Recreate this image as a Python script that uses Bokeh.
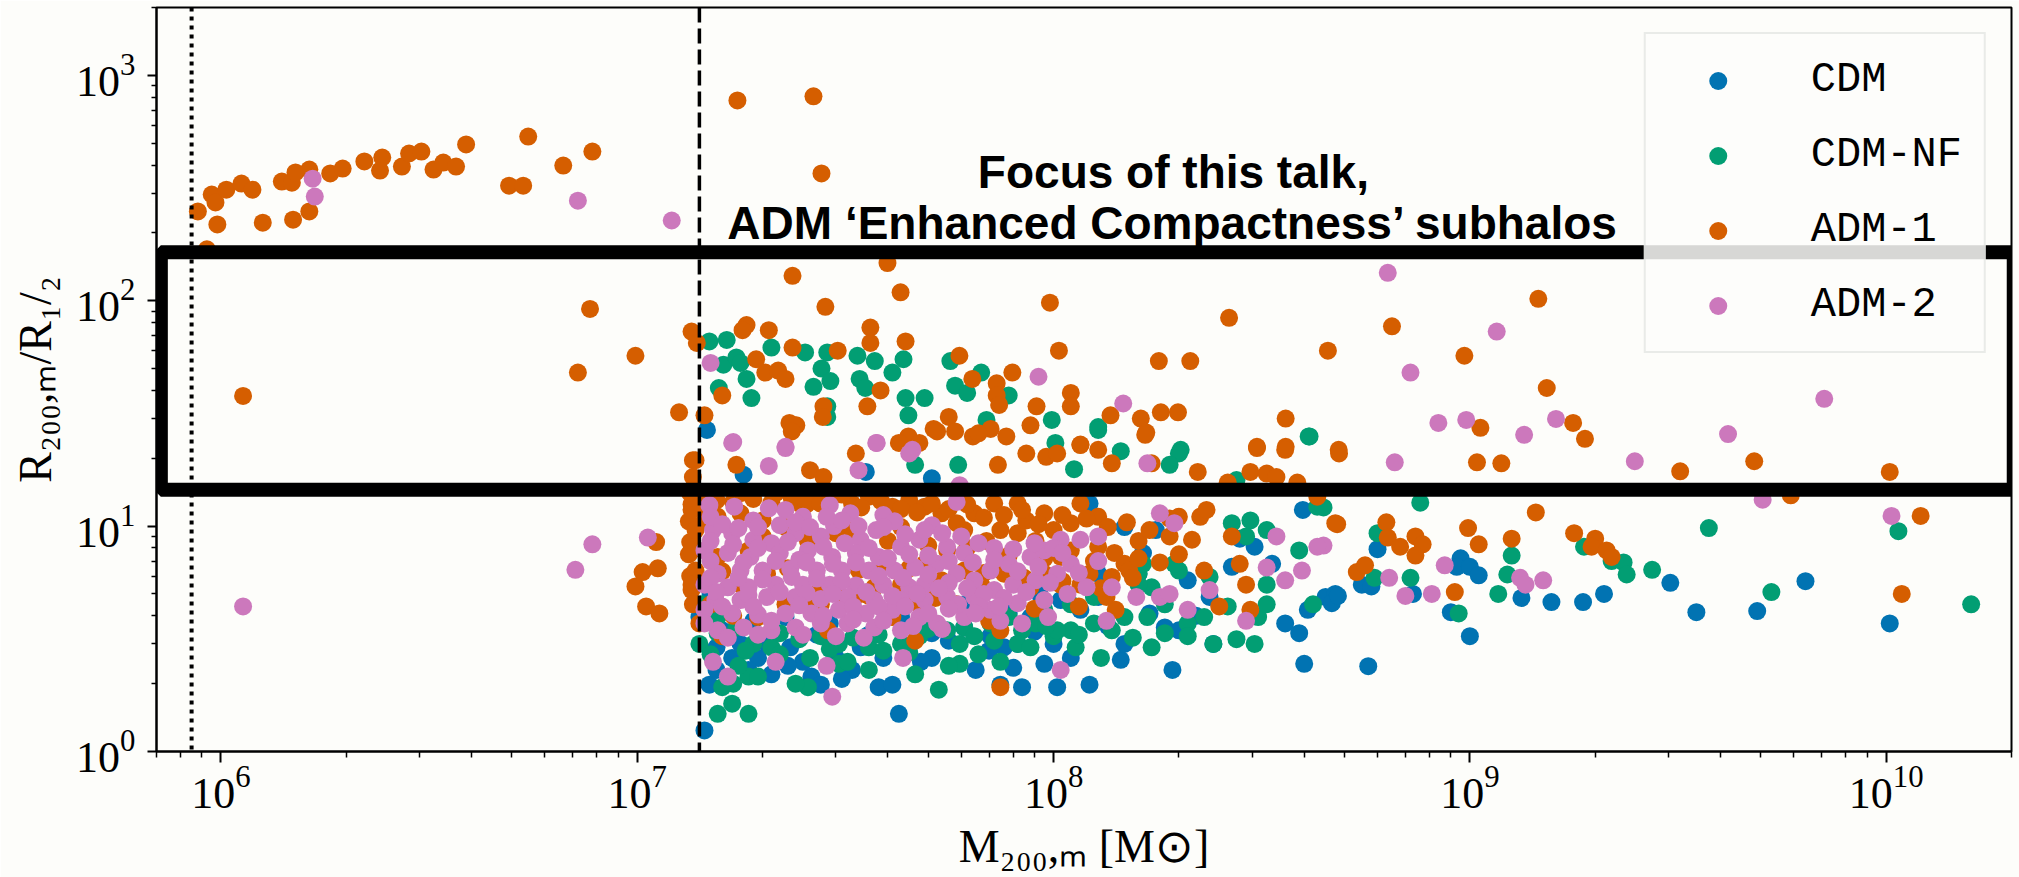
from bokeh.plotting import figure
from bokeh.models import FixedTicker, Span, BoxAnnotation, Label
from bokeh.embed import file_html
from bokeh.resources import INLINE

# ---------------- data (M200,m [Msun], R200,m / R1/2) ----------------
series_names = ["CDM", "CDM-NF", "ADM-1", "ADM-2"]
series_colors = ["#0173b2", "#029e73", "#d55e00", "#cc78bc"]

cdm_points = [
    (1.47e7, 26.7), (1.8e7, 16.9), (5.1e7, 16.3), (3.54e7, 17.4), (1.41e7, 3.95), (1.6e7, 3.45),
    (1.69e7, 2.6), (1.77e7, 3.0), (1.95e7, 2.6), (2.1e7, 2.2), (2.05e7, 3.0), (2.33e7, 2.9),
    (2.62e7, 2.15), (2.76e7, 1.98), (3.28e7, 2.3), (3.44e7, 2.9), (3.8e7, 1.93), (4.1e7, 1.98),
    (4.25e7, 1.47), (5.1e7, 2.6), (5.1e7, 3.35), (6.1e7, 3.55), (7.05e7, 3.25), (7.6e7, 2.9),
    (8.2e7, 3.0), (8.4e7, 1.93), (9.5e7, 2.45), (1.0e8, 3.0), (1.02e8, 1.93), (1.22e8, 1.98),
    (1.16e8, 4.25), (1.22e8, 12.6), (1.45e8, 2.55), (1.48e8, 3.0), (1.48e8, 9.9), (1.64e8, 7.6),
    (1.76e8, 9.6), (1.85e8, 3.55), (1.93e8, 2.3), (2.0e8, 3.45), (2.42e8, 3.0), (2.68e8, 6.6),
    (3.04e8, 8.1), (3.35e8, 6.8), (3.6e8, 3.7), (3.89e8, 3.35), (4.0e8, 2.45), (3.97e8, 11.8),
    (4.08e8, 4.25), (4.5e8, 4.85), (4.75e8, 5.0), (1.6e8, 6.15), (1.28e8, 6.15), (9.25e7, 5.0),
    (1.04e8, 4.7), (7.45e7, 1.98), (7.8e7, 4.1), (1.45e7, 1.24), (1.49e7, 1.98), (2.27e7, 3.95),
    (2.9e7, 3.7), (4.3e7, 3.95), (6.1e7, 4.5), (8.8e7, 3.95), (1.28e8, 4.85), (2.1e8, 5.75),
    (2.37e8, 4.85), (2.8e8, 8.8), (6.0e8, 7.9), (5.5e8, 5.5), (5.8e8, 5.4), (4.66e8, 4.55),
    (4.82e8, 4.9), (7.3e8, 5.0), (9.5e8, 7.2), (9.3e8, 6.6), (1.0e9, 6.6), (1.05e9, 6.05),
    (1.33e9, 4.8), (1.57e9, 4.6), (1.87e9, 4.6), (2.1e9, 5.0), (3.03e9, 5.6), (3.5e9, 4.15),
    (4.9e9, 4.2), (6.4e9, 5.7), (1.02e10, 3.7), (9.0e8, 4.15), (1.0e9, 3.25), (5.7e8, 2.39),
    (1.5e7, 5.0), (1.45e7, 4.4), (1.55e7, 2.3), (1.9e7, 3.8), (2.5e7, 2.5), (3.0e7, 2.6),
    (3.6e7, 3.3),
    (1.55e7, 2.9), (1.85e7, 2.3), (2.3e7, 2.4), (2.7e7, 3.3), (3.1e7, 2.1), (3.9e7, 2.6),
    (4.8e7, 2.5), (5.6e7, 3.1), (6.5e7, 2.3), (7.0e7, 2.8), (8.0e7, 2.35), (9.0e7, 3.4),
    (1.1e8, 2.6), (1.35e8, 3.6), (1.7e8, 4.1), (2.2e8, 4.0),
]

cdmnf_points = [
    (1.49e7, 66), (1.64e7, 67), (1.61e7, 52), (1.73e7, 56), (1.77e7, 53), (2.1e7, 62),
    (2.53e7, 59), (2.86e7, 59), (3.38e7, 57), (3.72e7, 54), (4.36e7, 55), (4.1e7, 48),
    (2.77e7, 50), (2.91e7, 44), (2.65e7, 41.5), (1.83e7, 45), (1.88e7, 37), (1.57e7, 41),
    (3.42e7, 45), (3.53e7, 41), (4.41e7, 37), (4.9e7, 37), (4.48e7, 31), (5.65e7, 54),
    (5.8e7, 42), (6.2e7, 39), (6.7e7, 48), (7.8e7, 38), (2.86e7, 34), (2.86e7, 30.5),
    (9.9e7, 29.6), (1.28e8, 27.5), (6.9e7, 29.6), (4.12e8, 25), (2.02e8, 21.8), (1.01e8, 23.4),
    (1.28e8, 26.7), (2.0e8, 21), (4.1e8, 25), (1.9e8, 18.7), (1.12e8, 17.9), (1.45e8, 21.5),
    (4.65e7, 18.7), (5.9e7, 18.7), (2.75e8, 16), (1.41e7, 3.0), (1.56e7, 3.35), (1.73e7, 3.55),
    (1.9e7, 3.0), (1.82e7, 2.8), (2.2e7, 3.35), (2.45e7, 3.15), (2.76e7, 3.25), (3.05e7, 3.0),
    (3.05e7, 2.45), (3.6e7, 2.9), (3.9e7, 2.8), (4.3e7, 3.0), (4.76e7, 3.25), (5.55e7, 3.45),
    (5.95e7, 3.0), (6.1e7, 3.55), (6.45e7, 3.25), (7.05e7, 3.7), (7.8e7, 3.95), (8.4e7, 3.45),
    (9.05e7, 3.7), (1.0e8, 3.25), (1.1e8, 3.45), (1.25e8, 3.7), (1.38e8, 3.45), (1.48e8, 3.95),
    (1.68e8, 3.95), (1.85e8, 4.5), (1.72e8, 2.9), (1.85e8, 3.35), (2.1e8, 3.7), (2.3e8, 3.95),
    (2.62e8, 4.4), (2.75e8, 3.15), (3.04e8, 3.0), (3.1e8, 3.95), (3.25e8, 4.5), (1.72e8, 5.35),
    (1.6e8, 6.15), (1.64e8, 6.8), (2.0e8, 6.35), (2.37e8, 5.95), (2.68e8, 10.3), (2.97e8, 10.6),
    (3.25e8, 9.6), (3.89e8, 7.8), (4.2e8, 4.5), (4.3e8, 12.2), (9.5e7, 4.25), (1.13e8, 2.9),
    (1.85e7, 2.15), (1.95e7, 2.15), (1.6e7, 1.93), (1.56e7, 1.47), (1.85e7, 1.47), (1.69e7, 1.63),
    (5.3e7, 1.88), (2.57e7, 1.93), (3.6e7, 2.3), (4.65e7, 2.2), (5.95e7, 2.45), (7.45e7, 2.5),
    (8.2e7, 3.0), (1.02e8, 3.45), (1.1e8, 4.5), (1.25e8, 4.85), (2.1e7, 2.9), (1.6e8, 5.5),
    (1.95e8, 6.8), (2.1e8, 3.25), (2.42e8, 3.0), (2.9e8, 9.0), (3.25e8, 5.5), (1.43e7, 4.5),
    (1.56e7, 3.95), (7.6e8, 12.7), (4.45e8, 12.1), (6.0e8, 9.3), (3.75e9, 9.8), (1.07e10, 9.5),
    (1.26e9, 7.4), (1.88e9, 8.1), (2.19e9, 7.0), (2.34e9, 6.9), (2.38e9, 6.1), (2.74e9, 6.4),
    (5.9e8, 5.9), (7.2e8, 5.9), (1.23e9, 6.1), (1.17e9, 5.0), (9.4e8, 4.1), (5.3e9, 5.1),
    (1.6e10, 4.5),
    (1.5e7, 2.7), (1.75e7, 2.4), (2.2e7, 2.7), (2.6e7, 2.6), (2.9e7, 2.85), (3.3e7, 3.2),
    (3.8e7, 3.3), (4.5e7, 2.75), (5.0e7, 3.5), (6.6e7, 2.7), (7.2e7, 3.1), (8.8e7, 2.9),
    (9.6e7, 3.6), (1.15e8, 3.3), (1.3e8, 2.6), (1.55e8, 3.2), (1.7e7, 2.0), (2.4e7, 2.0),
    (3.2e7, 2.5), (5.6e7, 2.4),
]

adm1_points = [
    (8.8e5, 249), (9.5e5, 296), (9.7e5, 273), (9.8e5, 218), (1.03e6, 311), (1.12e6, 331),
    (1.19e6, 311), (1.26e6, 222), (1.40e6, 338), (1.48e6, 334), (1.51e6, 371), (1.49e6, 229),
    (1.63e6, 382), (1.63e6, 249), (1.83e6, 367), (1.96e6, 386), (2.21e6, 415), (2.41e6, 378),
    (2.44e6, 432), (2.72e6, 394), (2.83e6, 450), (3.03e6, 459), (3.24e6, 382), (3.42e6, 410),
    (3.67e6, 394), (3.88e6, 494), (4.92e6, 324), (5.32e6, 324), (5.47e6, 535), (6.64e6, 398),
    (7.8e6, 459), (9.25e5, 169),
    (7.7e6, 92), (9.9e6, 57), (7.2e6, 48), (1.13e6, 37.8), (1.26e7, 32), (1.35e7, 73), (1.39e7, 65),
    (1.11e7, 8.5), (1.03e7, 6.25), (1.12e7, 6.5), (9.9e6, 5.4), (1.05e7, 4.4), (1.13e7, 4.1),
    (1.36e7, 19.6), (1.34e7, 14), (1.35e7, 12.5), (1.33e7, 10.5), (1.34e7, 8.5), (1.33e7, 7.5),
    (1.34e7, 6.0), (1.35e7, 5.2), (1.36e7, 16.5),
    (1.74e7, 774), (2.65e7, 807), (2.77e7, 367),
    (3.99e7, 147), (2.36e7, 129), (4.29e7, 109), (2.83e7, 94), (9.8e7, 98), (2.64e8, 84),
    (4.56e8, 60), (1.03e8, 60), (1.79e8, 54), (2.13e8, 54), (1.83e7, 78), (1.79e7, 74),
    (2.07e7, 74), (3.63e7, 76), (3.63e7, 65), (4.41e7, 66), (3.03e7, 60), (2.36e7, 62),
    (1.93e7, 55), (2.03e7, 48), (2.18e7, 49), (2.27e7, 45), (5.94e7, 57), (6.38e7, 45),
    (7.96e7, 48), (7.3e7, 43), (7.3e7, 38), (7.4e7, 34.5), (3.84e7, 40), (3.57e7, 34),
    (2.8e7, 34), (2.79e7, 30.5), (1.6e7, 38), (1.45e7, 31), (2.32e7, 28.7), (2.41e7, 28),
    (1.1e8, 39), (1.1e8, 34), (9.1e7, 34), (8.8e7, 28), (1.37e8, 31), (1.62e8, 30),
    (1.67e8, 26), (1.81e8, 32), (1.99e8, 32), (3.61e8, 30), (5.6e7, 30.5), (5.15e7, 27),
    (6.4e7, 25), (7.06e7, 27), (7.7e7, 25), (4.48e7, 25), (3.08e8, 22.5), (3.61e8, 22.5),
    (4.84e8, 21.8), (1.16e8, 23),
    (1.46e9, 102), (6.5e8, 77), (9.7e8, 57), (1.53e9, 41), (1.06e9, 27.3), (1.77e9, 28.7),
    (1.89e9, 24.4),
    (1.04e9, 19.2), (1.19e9, 19), (3.2e9, 17.5), (4.82e9, 19.4), (1.02e10, 17.4), (5.9e9, 13.7),
    (1.21e10, 11.1), (1.44e9, 11.5), (4.8e8, 10.2), (6.3e8, 10.4), (6.35e8, 8.9), (6.8e8, 8.1),
    (7.4e8, 9.0), (7.7e8, 8.3), (7.4e8, 7.4), (9.9e8, 9.8), (1.05e9, 8.3), (1.26e9, 8.8),
    (1.78e9, 9.3), (2.0e9, 8.8), (1.96e9, 8.1), (2.13e9, 7.8), (2.19e9, 7.3), (5.35e8, 6.25),
    (5.6e8, 6.7), (9.2e8, 5.1), (1.09e10, 5.0),
    (2.35e7, 26.3), (3.35e7, 21), (4.25e7, 23.4), (4.76e7, 23.4), (5.25e7, 26.3), (5.8e7, 26.3),
    (6.6e7, 25.8), (7.35e7, 18.7), (8.6e7, 21), (9.6e7, 20.3), (1.02e8, 21), (1.16e8, 22.9),
    (1.28e8, 21.8), (1.38e8, 19.0), (1.66e8, 25.4), (2.22e8, 17.4), (2.62e8, 15.6), (2.97e8, 17.4),
    (3.08e8, 22.2), (3.25e8, 17.1), (3.6e8, 21.8), (3.85e8, 15.6), (4.85e8, 21), (1.38e7, 19.6),
    (2.6e7, 17.7), (2.8e7, 16.5), (1.73e7, 18.7),
    (1.35e7, 11.8), (1.38e7, 9.6), (1.38e7, 6.35), (1.36e7, 4.5), (1.56e7, 11.0), (1.77e7, 11.4),
    (2.0e7, 10.6), (2.27e7, 9.9), (2.45e7, 12.6), (2.62e7, 14.0), (2.9e7, 13.5), (3.28e7, 12.6),
    (3.6e7, 13.5), (4.1e7, 12.2), (4.5e7, 13.0), (4.9e7, 12.2), (5.38e7, 11.4), (5.85e7, 10.3),
    (6.1e7, 9.6), (6.45e7, 11.4), (6.9e7, 8.6), (7.45e7, 9.6), (8.2e7, 9.3), (7.2e7, 12.6),
    (8.6e7, 10.6), (9.5e7, 11.4), (1.0e8, 9.6), (1.1e8, 10.3), (1.16e8, 12.6), (1.04e8, 7.3),
    (1.22e8, 6.15), (1.38e8, 5.95), (1.48e8, 6.8), (1.16e8, 5.5), (1.34e8, 4.85), (1.41e8, 4.25),
    (1.52e8, 6.35), (6.1e7, 6.35), (5.38e7, 5.75), (4.3e7, 5.5), (3.71e7, 5.35), (2.76e7, 5.35),
    (2.05e7, 6.15), (1.77e7, 5.5), (1.5e7, 4.5), (1.41e7, 3.7), (1.6e7, 3.25), (1.95e7, 3.95),
    (2.27e7, 4.5), (2.76e7, 4.5), (3.05e7, 5.0), (3.44e7, 5.0), (4.65e7, 4.85), (4.1e7, 3.95),
    (4.76e7, 4.5), (5.85e7, 4.5), (6.7e7, 5.5), (7.45e7, 3.45), (7.45e7, 1.93), (2.87e7, 3.45),
    (4.65e7, 3.1), (7.6e7, 6.15), (2.25e8, 11.0), (2.33e8, 11.8), (2.0e8, 11.0), (2.68e8, 9.0),
    (2.8e8, 6.8), (2.9e8, 5.5), (4.75e8, 10.3), (3.43e8, 16.5), (4.3e8, 13.5), (2.15e8, 8.7),
    (2.3e8, 6.35), (2.5e8, 4.4), (2.97e8, 4.25), (1.9e8, 9.0), (1.72e8, 19.0),
    (8.2e7, 12.6), (9.05e7, 8.6), (1.28e8, 8.1), (1.28e8, 11.0), (1.6e8, 8.6), (5.55e7, 7.8),
    (4.3e7, 9.9), (3.28e7, 9.6), (2.57e7, 8.6), (1.85e7, 7.8), (1.56e7, 7.3), (1.35e7, 7.8),
    (1.35e7, 5.5), (1.48e7, 13.5), (1.77e7, 14.0), (2.15e7, 14.0), (4.9e7, 6.8), (3.9e7, 6.8),
    (9.5e7, 6.15), (1.04e8, 5.5), (8.8e7, 5.35),
    (1.42e7, 12.5), (1.55e7, 13.0), (1.7e7, 12.8), (1.9e7, 13.2), (2.1e7, 12.7), (2.35e7, 13.3),
    (2.55e7, 12.5), (2.75e7, 12.6), (3.1e7, 13.8), (3.45e7, 12.1), (3.85e7, 12.9), (4.3e7, 11.9),
    (4.7e7, 11.5), (5.1e7, 12.6), (5.6e7, 11.9), (6.2e7, 12.5), (6.8e7, 10.9), (7.6e7, 11.2),
    (8.4e7, 11.8), (9.2e7, 10.2), (1.05e8, 11.2), (1.2e8, 10.8), (1.35e8, 9.9), (1.5e8, 10.4),
    (1.7e8, 9.6), (1.9e8, 10.8), (1.45e7, 10.5), (2.0e7, 9.0), (3.0e7, 9.3), (4.0e7, 8.6),
    (5.0e7, 8.2), (6.2e7, 8.0), (7.8e7, 7.4), (9.5e7, 7.2), (1.1e8, 7.8), (1.25e8, 7.0),
    (1.4e8, 7.6), (1.6e8, 7.2), (1.8e8, 6.9), (2.0e8, 7.5), (1.6e7, 6.3), (2.3e7, 6.5),
    (3.4e7, 6.4), (4.5e7, 6.5), (6.8e7, 6.2), (8.5e7, 5.9), (1.05e8, 5.7), (1.3e8, 5.3),
    (1.55e8, 5.9), (1.7e7, 4.0), (2.6e7, 4.7), (3.6e7, 4.9), (5.2e7, 4.8), (7.0e7, 3.8),
    (9.0e7, 4.3), (1.15e8, 4.4),
]

adm2_points = [
    (1.66e6, 348), (1.68e6, 290), (7.2e6, 278), (1.21e7, 227),
    (1.13e6, 4.4), (7.1e6, 6.4), (7.8e6, 8.3), (1.06e7, 8.9),
    (1.5e7, 53), (9.2e7, 46), (1.47e8, 35), (1.7e7, 23.6), (2.27e7, 22.5), (3.76e7, 23.4),
    (4.58e7, 21.8),
    (6.35e8, 133), (1.16e9, 73), (7.2e8, 48), (7.1e9, 36.7), (8.4e8, 28.7), (9.8e8, 29.6),
    (1.35e9, 25.4), (1.61e9, 29.9), (4.17e9, 25.6),
    (4.45e8, 8.2), (8.7e8, 6.7), (6.4e8, 5.9), (7.0e8, 4.9), (8.1e8, 5.0), (1.32e9, 5.9),
    (1.36e9, 5.5), (1.5e9, 5.75), (5.05e9, 13.1), (1.03e10, 11.1), (2.49e9, 19.4), (6.6e8, 19.2),
    (1.69e7, 23.4), (3.75e7, 23.4), (2.27e7, 22.2), (4.5e7, 21), (2.07e7, 18.5), (3.4e7, 17.7),
    (1.68e8, 19.0), (5.95e7, 15.2),
    (1.49e7, 12.4), (1.71e7, 12.2), (2.07e7, 12.0), (1.9e7, 10.6), (2.27e7, 11.8), (2.5e7, 11.0),
    (2.9e7, 12.4), (3.25e7, 11.4), (3.9e7, 11.2), (4.15e7, 10.5), (3.75e7, 9.6), (3.44e7, 8.7),
    (2.97e7, 10.0), (2.76e7, 9.0), (2.4e7, 9.3), (2.1e7, 8.4), (1.9e7, 8.7), (1.69e7, 9.3),
    (1.52e7, 9.6), (1.45e7, 7.8), (1.65e7, 7.6), (1.87e7, 7.3), (2.2e7, 7.6), (2.57e7, 7.8),
    (2.94e7, 7.3), (3.35e7, 7.6), (3.8e7, 7.3), (4.3e7, 8.1), (4.76e7, 8.7), (5.1e7, 10.1),
    (5.85e7, 12.8), (5.55e7, 8.1), (6.1e7, 7.6), (5.25e7, 6.8), (4.65e7, 6.55), (4.15e7, 6.35),
    (3.6e7, 6.35), (3.1e7, 6.35), (2.7e7, 6.35), (2.33e7, 6.45), (2.0e7, 6.35), (1.77e7, 6.35),
    (1.56e7, 6.15), (1.45e7, 5.5), (1.65e7, 5.35), (1.85e7, 5.35), (2.15e7, 5.5), (2.5e7, 5.5),
    (2.9e7, 5.5), (3.35e7, 5.45), (3.9e7, 5.5), (4.5e7, 5.35), (4.9e7, 5.5), (5.85e7, 6.15),
    (6.45e7, 5.75), (7.05e7, 6.35), (7.8e7, 6.8), (8.8e7, 7.3), (9.5e7, 7.8), (1.04e8, 8.7),
    (1.16e8, 8.7), (1.28e8, 9.0), (1.28e8, 7.0), (1.1e8, 6.8), (1.02e8, 6.15), (9.05e7, 5.75),
    (8.0e7, 5.5), (7.2e7, 5.2), (6.45e7, 4.85), (5.55e7, 4.85), (4.9e7, 4.7), (4.3e7, 4.7),
    (3.71e7, 4.7), (3.2e7, 4.85), (2.76e7, 4.75), (2.4e7, 4.85), (2.05e7, 4.85), (1.77e7, 4.7),
    (1.54e7, 4.7), (1.45e7, 4.25), (1.69e7, 4.1), (1.95e7, 4.05), (2.27e7, 4.1), (2.62e7, 4.1),
    (3.05e7, 4.25), (3.54e7, 4.1), (4.1e7, 4.25), (4.76e7, 3.95), (5.25e7, 3.7), (6.1e7, 3.95),
    (7.05e7, 4.25), (8.2e7, 4.55), (9.5e7, 4.7), (1.08e8, 5.0), (1.2e8, 5.35), (1.38e8, 5.35),
    (1.58e8, 4.85), (1.8e8, 4.85), (2.1e8, 4.25), (1.9e8, 5.0), (1.8e8, 11.4), (1.95e8, 10.3),
    (2.37e8, 5.2), (2.9e8, 3.8), (3.25e8, 6.55), (3.43e8, 9.0), (3.6e8, 5.75), (3.95e8, 6.35),
    (4.3e8, 8.1), (1.34e8, 3.8), (9.7e7, 3.95), (8.4e7, 3.7), (7.45e7, 3.8), (4.3e7, 3.45),
    (3.71e7, 3.55), (3.2e7, 3.7), (2.76e7, 3.7), (2.4e7, 3.55), (2.1e7, 3.45), (1.8e7, 3.55),
    (1.56e7, 3.45), (1.52e7, 2.5), (1.65e7, 2.15), (2.15e7, 2.5), (2.85e7, 2.4), (2.94e7, 1.75),
    (4.35e7, 2.6), (1.04e8, 2.3),
    (1.5e7, 11.0), (1.6e7, 10.2), (1.75e7, 9.8), (1.95e7, 9.9), (2.2e7, 10.1), (2.4e7, 10.4),
    (2.6e7, 9.9), (2.85e7, 11.0), (3.1e7, 10.6), (3.4e7, 10.0), (3.9e7, 9.9), (4.4e7, 9.2),
    (4.9e7, 9.6), (5.4e7, 9.3), (6.0e7, 9.0), (6.6e7, 8.4), (7.2e7, 8.0), (8.0e7, 7.9),
    (9.0e7, 8.4), (1.0e8, 8.0), (1.5e7, 8.6), (1.7e7, 8.3), (1.95e7, 8.0), (2.3e7, 8.5),
    (2.45e7, 7.1), (2.8e7, 8.1), (3.15e7, 8.4), (3.6e7, 8.0), (4.0e7, 7.2), (4.5e7, 7.5),
    (5.0e7, 7.4), (5.6e7, 7.0), (6.4e7, 6.9), (7.2e7, 7.1), (8.2e7, 6.3), (9.2e7, 6.6),
    (1.05e8, 7.6), (1.15e8, 6.2), (1.5e7, 7.0), (1.8e7, 6.9), (2.15e7, 7.0), (2.55e7, 6.9),
    (2.95e7, 6.8), (3.35e7, 6.9), (3.8e7, 6.0), (4.35e7, 5.9), (5.0e7, 6.1), (5.6e7, 5.6),
    (6.2e7, 5.3), (6.8e7, 5.0), (7.6e7, 4.8), (8.6e7, 5.1), (9.8e7, 5.6), (1.5e7, 5.9),
    (1.75e7, 5.9), (2.0e7, 5.8), (2.35e7, 5.95), (2.7e7, 5.85), (3.1e7, 5.7), (3.55e7, 5.1),
    (4.1e7, 4.9), (4.7e7, 5.0), (5.3e7, 5.3), (5.9e7, 4.5), (6.6e7, 4.4), (7.4e7, 4.4),
    (1.55e7, 5.1), (1.85e7, 4.95), (2.2e7, 5.1), (2.55e7, 5.05), (2.95e7, 5.0), (3.3e7, 4.4),
    (3.8e7, 4.4), (4.4e7, 4.4), (5.0e7, 4.1), (5.6e7, 4.3), (6.5e7, 4.1), (1.6e7, 4.4),
    (1.9e7, 4.4), (2.1e7, 3.8), (2.45e7, 4.45), (2.8e7, 4.0), (3.3e7, 3.85), (3.9e7, 3.8),
    (4.6e7, 3.6), (5.4e7, 3.5), (1.45e7, 3.7), (1.65e7, 3.2), (1.95e7, 3.3), (2.5e7, 3.3),
    (3.0e7, 3.25), (3.5e7, 3.2),
]

all_points = [cdm_points, cdmnf_points, adm1_points, adm2_points]

x_major = [1e6, 1e7, 1e8, 1e9, 1e10]
y_major = [1, 10, 100, 1000]

resolution_limit = 8.5e5      # dotted line
convergence_limit = 1.41e7    # dashed line
focus_box = dict(left=7.17e5, right=2.025e10, bottom=14.5, top=164)
focus_text = ["Focus of this talk,", "ADM \u2018Enhanced Compactness\u2019 subhalos"]
focus_text_y = [372, 222]
x_label = "M\u2082\u2080\u2080,\u2098 [M\u2299]"
y_label = "R\u2082\u2080\u2080,\u2098/R\u2081/\u2082"

# ---------------- figure ----------------
BG = "#fdfdfa"
p = figure(width=2019, height=877, x_axis_type="log", y_axis_type="log",
           x_range=(7.0e5, 2.0e10), y_range=(1, 2000),
           output_backend="svg", toolbar_location=None,
           min_border_left=156, min_border_right=8, min_border_top=7, min_border_bottom=126,
           background_fill_color=BG, border_fill_color=BG)
p.grid.visible = False
p.outline_line_color = "black"
p.outline_line_width = 2
p.outline_line_alpha = 1

for pts, name, col in zip(all_points, series_names, series_colors):
    mass = [m for m, r in pts]
    ratio = [r for m, r in pts]
    p.scatter(mass, ratio, size=18, marker="circle", fill_color=col, line_color=None,
              legend_label=name)

# ticks
x_minor = [k * 10.0 ** e for e in range(5, 11) for k in range(2, 10)]
y_minor = [k * 10.0 ** e for e in range(0, 4) for k in range(2, 10)]
p.xaxis.ticker = FixedTicker(ticks=x_major, minor_ticks=x_minor)
p.yaxis.ticker = FixedTicker(ticks=y_major, minor_ticks=y_minor)
for ax in (p.xaxis, p.yaxis):
    ax.axis_line_width = 2
    ax.axis_line_color = "black"
    ax.major_tick_line_width = 2
    ax.minor_tick_line_width = 1.5
    ax.major_tick_in = 0
    ax.minor_tick_in = 0
    ax.major_label_text_font = "Liberation Serif"
    ax.major_label_text_font_size = "44px"
    ax.major_label_text_color = "black"
    ax.axis_label_text_font = "Liberation Serif"
    ax.axis_label_text_font_size = "46px"
    ax.axis_label_text_font_style = "normal"
    ax.axis_label_text_color = "black"
p.xaxis.major_tick_out = 11
p.xaxis.minor_tick_out = 6
p.xaxis.major_label_standoff = 4
p.yaxis.major_tick_out = 9
p.yaxis.minor_tick_out = 5
p.yaxis.major_label_standoff = 12
p.xaxis.axis_label = x_label
p.yaxis.axis_label = y_label
p.xaxis.axis_label_standoff = 10
p.yaxis.axis_label_standoff = 12

# reference lines
p.add_layout(Span(location=resolution_limit, dimension="height", line_color="black",
                  line_width=4, line_dash="4 5"))
p.add_layout(Span(location=convergence_limit, dimension="height", line_color="black",
                  line_width=3.5, line_dash="15 6"))

# legend
leg = p.legend[0]
leg.location = "top_right"
leg.margin = 25
leg.padding = 22
leg.spacing = 27
leg.glyph_width = 100
leg.glyph_height = 45
leg.label_height = 45
leg.label_standoff = 43
leg.label_text_font = "Liberation Mono"
leg.label_text_font_size = "42px"
leg.label_text_color = "black"
leg.border_line_color = "#d6dad6"
leg.border_line_width = 2
leg.background_fill_color = BG
leg.background_fill_alpha = 0.85

# focus text
for txt, yv in zip(focus_text, focus_text_y):
    p.add_layout(Label(x=1.94e8, y=yv, text=txt, text_align="center",
                       text_baseline="alphabetic", text_font="Liberation Sans",
                       text_font_style="bold", text_font_size="46px", text_color="black"))

# focus box (slide overlay)
p.add_layout(BoxAnnotation(fill_alpha=0, line_color="black", line_alpha=1, line_width=14,
                           level="overlay", **focus_box))

open("out.html", "w").write(file_html(p, INLINE))
